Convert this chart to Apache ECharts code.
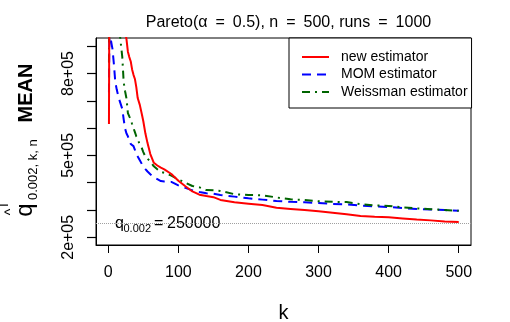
<!DOCTYPE html>
<html>
<head>
<meta charset="utf-8">
<script src="https://cdn.jsdelivr.net/npm/echarts@6/dist/echarts.min.js"></script>
<style>
html, body { margin: 0; padding: 0; background: #fff; }
#chart { width: 510px; height: 322px; }
</style>
</head>
<body>
<div id="chart"></div>
<script>
// k values at which the mean estimates were read off
const kValues = [1, 2, 3, 4, 6, 8, 10, 12, 15, 17,
    20, 22, 24, 26, 28, 30, 32, 34, 36, 38,
    40, 42, 45, 48, 50, 53, 56, 60, 65, 70,
    75, 80, 90, 100, 110, 120, 130, 140, 150, 160,
    180, 200, 220, 240, 260, 280, 300, 320, 340, 360,
    380, 400, 420, 440, 460, 480, 500];

const newEstimator = [615000, 1500000, 1450000, 1400000, 1330000, 1270000, 1210000, 1160000, 1100000, 1060000,
    1010000, 980000, 955000, 925000, 880000, 860000, 845000, 815000, 795000, 780000,
    750000, 710000, 685000, 650000, 625000, 580000, 545000, 505000, 473000, 463000,
    455000, 449000, 432000, 407000, 387000, 368000, 356000, 351000, 347000, 337000,
    328000, 323000, 318000, 308000, 304000, 300000, 295000, 290000, 284000, 278000,
    275000, 273000, 269000, 265000, 262000, 258000, 256000];

const momEstimator = [730000, 1100000, 960000, 918000, 890000, 835000, 770000, 742000, 710000, 703000,
    670000, 632000, 598000, 580000, 570000, 556000, 542000, 538000, 534000, 520000,
    505000, 496000, 482000, 468000, 460000, 450000, 441000, 431000, 420000, 413000,
    406000, 404000, 403000, 390000, 381000, 372000, 366000, 361000, 360000, 355000,
    349000, 343000, 338000, 333000, 330000, 328000, 326000, 322000, 321000, 316000,
    313000, 311000, 307000, 304000, 302000, 300000, 297000];

const weissmanEstimator = [840000, 1300000, 1250000, 1200000, 1150000, 1100000, 1060000, 1020000, 975000, 932000,
    860000, 768000, 735000, 708000, 655000, 643000, 632000, 615000, 600000, 585000,
    570000, 558000, 540000, 526000, 512000, 495000, 488000, 478000, 460000, 449000,
    440000, 436000, 426000, 412000, 400000, 388000, 383000, 373000, 372000, 370000,
    358000, 355000, 354000, 346000, 339000, 337000, 332000, 330000, 329000, 321000,
    317000, 315000, 310000, 306000, 303000, 300000, 297000];

const xTicks = [0, 100, 200, 300, 400, 500];
const yTicks = [200000, 300000, 400000, 500000, 600000, 700000, 800000, 900000];
const yLabelTicks = [200000, 500000, 800000];
const trueQuantile = 250000;

const font = 'Liberation Sans, Arial, sans-serif';
const toPairs = vals => kValues.map((k, i) => [k, vals[i]]);

// rotated / plain text pieces for titles and annotation
const label = (x, y, text, size, opts = {}) => ({
    type: 'text', x: x, y: y, rotation: opts.rotate ? Math.PI / 2 : 0,
    style: {
        text: text, font: (opts.bold ? 'bold ' : '') + size + 'px ' + font, fill: '#000',
        align: opts.align || 'center', verticalAlign: 'middle',
        textAlign: opts.align || 'center', textVerticalAlign: 'middle'
    }
});

const chart = echarts.init(document.getElementById('chart'));

const option = {
    animation: false,
    backgroundColor: '#fff',
    title: {
        text: 'Pareto(\u03b1\u2002=\u20020.5), n\u2002=\u2002500, runs\u2002=\u20021000',
        left: 283.5,
        textAlign: 'center',
        top: 10,
        textStyle: { fontSize: 16, fontWeight: 'normal', color: '#000', fontFamily: font }
    },
    grid: {
        left: 96, top: 38, right: 39, bottom: 77,
        show: true, borderColor: '#000', borderWidth: 1, backgroundColor: 'transparent'
    },
    legend: {
        left: 289, top: 38, orient: 'vertical',
        padding: [12, 4, 9, 12],
        itemWidth: 27, itemHeight: 14, itemGap: 3.5,
        borderColor: '#000', borderWidth: 1, borderRadius: 0, backgroundColor: '#fff',
        itemStyle: { opacity: 0 },
        textStyle: { fontSize: 14, color: '#000', fontFamily: font, padding: [0, 0, 0, 7] },
        data: ['new estimator', 'MOM estimator', 'Weissman estimator']
    },
    xAxis: {
        type: 'value', min: -17.5, max: 517.5, position: 'bottom',
        axisLine: { show: true, onZero: false, lineStyle: { color: '#000', width: 1 } },
        splitLine: { show: false },
        axisTick: { show: true, length: 8, customValues: xTicks, lineStyle: { color: '#000', width: 1 } },
        axisLabel: { customValues: xTicks, margin: 20, fontSize: 16, color: '#000', fontFamily: font }
    },
    yAxis: {
        type: 'value', min: 171800, max: 930000, position: 'left',
        axisLine: { show: true, onZero: false, lineStyle: { color: '#000', width: 1 } },
        splitLine: { show: false },
        axisTick: { show: true, length: 9, customValues: yTicks, lineStyle: { color: '#000', width: 1.2 } },
        axisLabel: {
            customValues: yLabelTicks, rotate: 90, margin: 19, fontSize: 16, color: '#000', fontFamily: font,
            formatter: v => (v / 100000) + 'e+05'
        }
    },
    graphic: [
        // y axis title
        label(26, 93, 'MEAN', 20, { rotate: true, bold: true }),
        label(25, 210, 'q', 24, { rotate: true }),
        label(33, 200, '0.002, k, n', 13, { rotate: true, align: 'left' }),
        label(11, 212, '^', 14, { rotate: true }),
        label(5, 205, 'T', 12, { rotate: true }),
        // x axis title
        label(283.5, 313, 'k', 20),
        // true quantile annotation
        label(115, 223.5, 'q', 16, { align: 'left' }),
        label(123.5, 228.7, '0.002', 11, { align: 'left' }),
        label(154, 223.5, '=', 16, { align: 'left' }),
        label(167, 223.5, '250000', 16, { align: 'left' })
    ],
    series: [
        {
            name: 'new estimator', type: 'line', data: toPairs(newEstimator),
            symbol: 'none', emphasis: { disabled: true }, z: 4,
            itemStyle: { color: '#ff0000' },
            lineStyle: { color: '#ff0000', width: 2 },
            markLine: {
                silent: true, symbol: ['none', 'none'],
                label: { show: false },
                lineStyle: { color: '#a0a0a0', type: 'dotted', width: 1 },
                data: [{ yAxis: trueQuantile }]
            }
        },
        {
            name: 'MOM estimator', type: 'line', data: toPairs(momEstimator),
            symbol: 'none', emphasis: { disabled: true }, z: 2,
            itemStyle: { color: '#0000ff' },
            lineStyle: { color: '#0000ff', width: 2, type: [9, 6] }
        },
        {
            name: 'Weissman estimator', type: 'line', data: toPairs(weissmanEstimator),
            symbol: 'none', emphasis: { disabled: true }, z: 3,
            itemStyle: { color: '#006400' },
            lineStyle: { color: '#006400', width: 2, type: [8, 5, 2, 5] }
        }
    ]
};

chart.setOption(option);
</script>
</body>
</html>
